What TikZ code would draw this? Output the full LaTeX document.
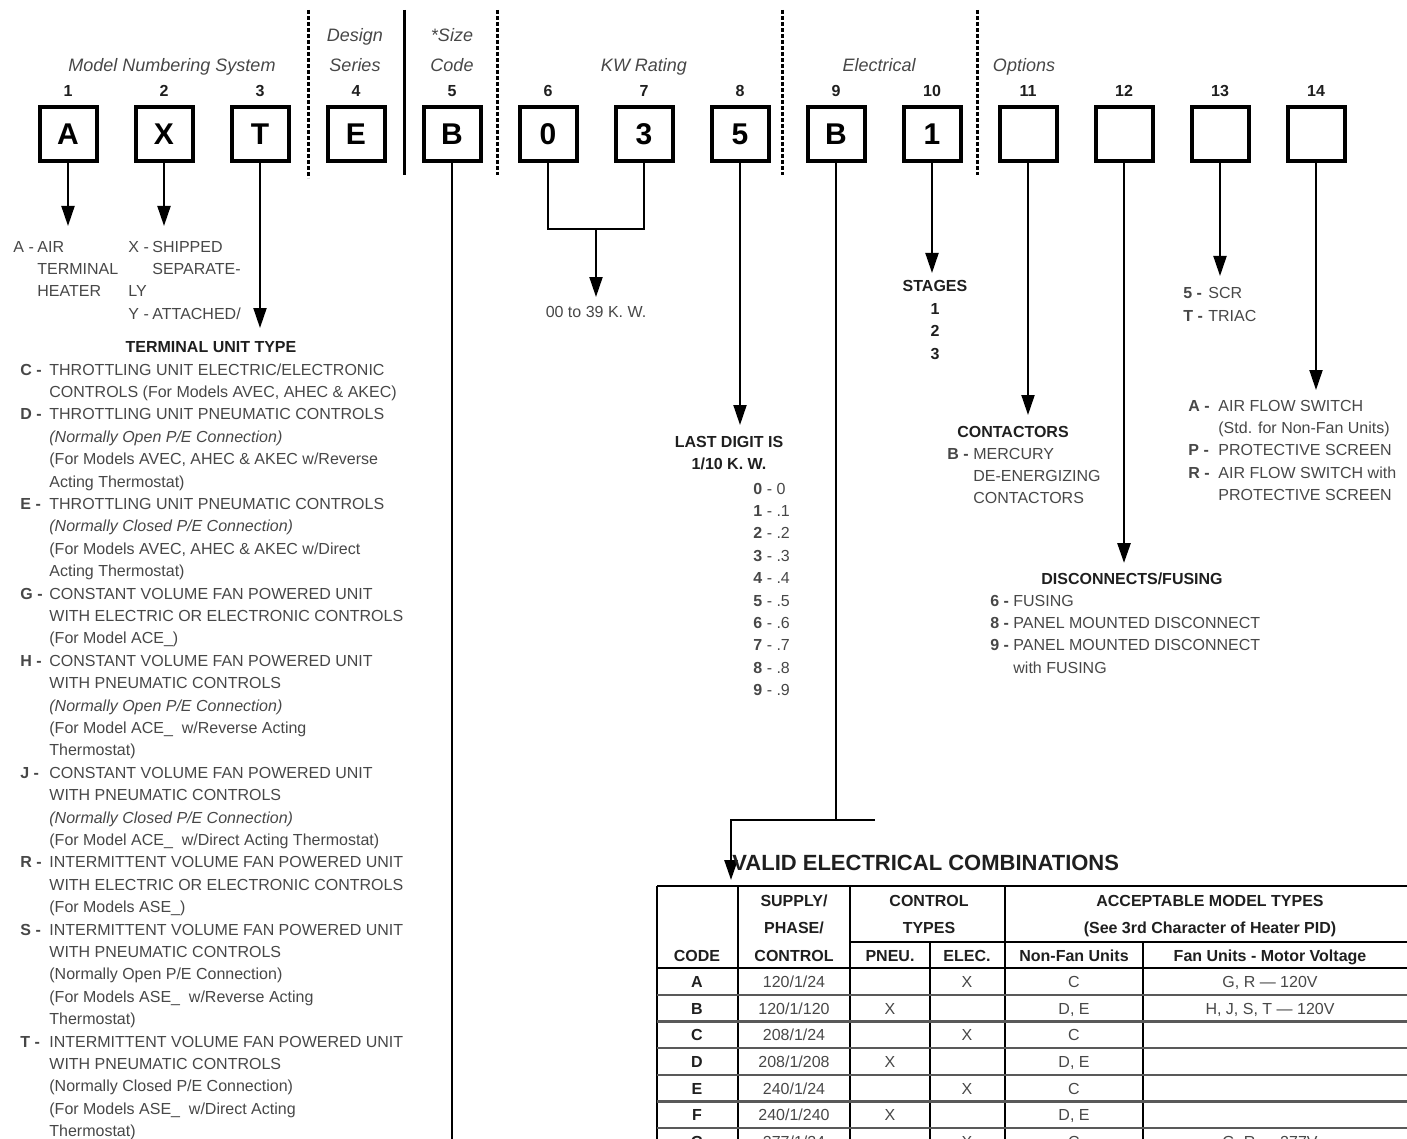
\documentclass[tikz,border=0pt]{standalone}
\usepackage{fontspec}
\setmainfont{Liberation Sans}
\usetikzlibrary{positioning, arrows.meta}

\colorlet{ink}{black!72}
\colorlet{inkdark}{black!88}

\begin{document}
\begin{tikzpicture}[x=0.5pt, y=-0.5pt,
  digit/.style={draw, line width=2pt, minimum width=28.5pt, minimum height=27pt,
    inner sep=0pt, font=\fontsize{15}{18}\selectfont\bfseries},
  num/.style={inner sep=0pt, font=\fontsize{8}{9}\selectfont\bfseries, text=inkdark},
  hdr/.style={inner sep=0pt, anchor=base, font=\fontsize{9}{11}\selectfont\itshape, text=ink},
  blk/.style={inner sep=0pt, anchor=base west, font=\fontsize{8}{11.2}\selectfont, text=ink},
  ttl/.style={inner sep=0pt, anchor=base, font=\fontsize{8}{11.2}\selectfont\bfseries, text=inkdark},
  arr/.style={line width=1pt, -{Triangle[length=10pt, width=6.5pt]}},
  conn/.style={line width=1pt},
  sep/.style={line width=1.5pt, dash pattern=on 2pt off 1pt},
  tline/.style={line width=1pt},
  rline/.style={line width=1.2pt, black!65},
  tcell/.style={inner sep=0pt, anchor=base, font=\fontsize{8}{9.6}\selectfont, text=ink},
  thead/.style={inner sep=0pt, anchor=base, font=\fontsize{8}{9.6}\selectfont\bfseries, text=inkdark},
]
\path[use as bounding box] (0,0) rectangle (1407,1139);
\clip (0,0) rectangle (1407,1139);

% boxes of the model number
\foreach \i/\c in {1/A,2/X,3/T,4/E,5/B,6/0,7/3,8/5,9/B,10/1,11/{},12/{},13/{},14/{}} {
  \node[digit] (b\i) at ({68+96*(\i-1)},134) {\c};
  \node[num, above=4pt of b\i] (n\i) {\i};
}

% group headings
\node[hdr] (hmns) at (172,71.5) {Model Numbering System};
\node[hdr] (hds1) at (355,41.5) {Design};
\node[hdr] (hds2) at (355,71.5) {Series};
\node[hdr] (hsc1) at (452,41.5) {*Size};
\node[hdr] (hsc2) at (452,71.5) {Code};
\node[hdr] (hkw)  at (644,71.5) {KW Rating};
\node[hdr] (hel)  at (879,71.5) {Electrical};
\node[hdr] (hop)  at (1024,71.5) {Options};

\draw[sep] (308,10) -- (308,178);
\draw[line width=1.5pt] (404,10) -- (404,175);
\draw[sep] (497,10) -- (497,175);
\draw[sep] (782,10) -- (782,175);
\draw[sep] (977,10) -- (977,175);

% arrow ends
\coordinate (e1) at (68,226);
\coordinate (e2) at (164,226);
\coordinate (e3) at (260,328);
\coordinate (e5) at (452,1150);
\coordinate (j67) at (596,229);
\coordinate (e67) at (596,297);
\coordinate (e8) at (740,425);
\coordinate (k9) at (731,820);
\coordinate (k9r) at (875,820);
\coordinate (e9) at (731,880);
\coordinate (e10) at (932,273);
\coordinate (e11) at (1028,415);
\coordinate (e12) at (1124,563);
\coordinate (e13) at (1220,276);
\coordinate (e14) at (1316,390);

\draw[arr] (b1) -- (e1);
\draw[arr] (b2) -- (e2);
\draw[arr] (b3) -- (e3);
\draw[line width=1.2pt] (b5) -- (e5);
\draw[conn] (b6) |- (j67) -| (b7);
\draw[arr] (j67) -- (e67);
\draw[arr] (b8) -- (e8);
\draw[line width=1.3pt] (b9) -- (b9 |- k9);
\draw[arr, line width=1.3pt] (k9r) -- (k9) -- (e9);
\draw[arr] (b10) -- (e10);
\draw[arr] (b11) -- (e11);
\draw[arr, line width=1.4pt] (b12) -- (e12);
\draw[arr] (b13) -- (e13);
\draw[arr] (b14) -- (e14);

% descriptions
\node[blk] (dA) at (13,252) {\begin{tabular}[t]{@{}p{12pt}@{}l@{}}
A -& AIR\\ & TERMINAL\\ & HEATER\end{tabular}};
\node[blk] (dX) at (128,252) {\begin{tabular}[t]{@{}p{12pt}@{}l@{}}
X -& SHIPPED\\ & SEPARATE-\\ \multicolumn{2}{@{}l@{}}{LY}\\ Y -& ATTACHED/\end{tabular}};

\node[ttl] (tut) at (211,352) {TERMINAL UNIT TYPE};
\node[blk] (tlist) at (20,375) {\begin{tabular}[t]{@{}p{14.5pt}@{}l@{}}
\textbf{C -} & THROTTLING UNIT ELECTRIC/ELECTRONIC\\
 & CONTROLS (For Models AVEC, AHEC \& AKEC)\\
\textbf{D -} & THROTTLING UNIT PNEUMATIC CONTROLS\\
 & \textit{(Normally Open P/E Connection)}\\
 & (For Models AVEC, AHEC \& AKEC w/Reverse\\
 & Acting Thermostat)\\
\textbf{E -} & THROTTLING UNIT PNEUMATIC CONTROLS\\
 & \textit{(Normally Closed P/E Connection)}\\
 & (For Models AVEC, AHEC \& AKEC w/Direct\\
 & Acting Thermostat)\\
\textbf{G -} & CONSTANT VOLUME FAN POWERED UNIT\\
 & WITH ELECTRIC OR ELECTRONIC CONTROLS\\
 & (For Model ACE\_)\\
\textbf{H -} & CONSTANT VOLUME FAN POWERED UNIT\\
 & WITH PNEUMATIC CONTROLS\\
 & \textit{(Normally Open P/E Connection)}\\
 & (For Model ACE\_ \ w/Reverse Acting\\
 & Thermostat)\\
\textbf{J -} & CONSTANT VOLUME FAN POWERED UNIT\\
 & WITH PNEUMATIC CONTROLS\\
 & \textit{(Normally Closed P/E Connection)}\\
 & (For Model ACE\_ \ w/Direct Acting Thermostat)\\
\textbf{R -} & INTERMITTENT VOLUME FAN POWERED UNIT\\
 & WITH ELECTRIC OR ELECTRONIC CONTROLS\\
 & (For Models ASE\_)\\
\textbf{S -} & INTERMITTENT VOLUME FAN POWERED UNIT\\
 & WITH PNEUMATIC CONTROLS\\
 & (Normally Open P/E Connection)\\
 & (For Models ASE\_ \ w/Reverse Acting\\
 & Thermostat)\\
\textbf{T -} & INTERMITTENT VOLUME FAN POWERED UNIT\\
 & WITH PNEUMATIC CONTROLS\\
 & (Normally Closed P/E Connection)\\
 & (For Models ASE\_ \ w/Direct Acting\\
 & Thermostat)
\end{tabular}};

\node[blk, anchor=base] (kw) at (596,317) {00 to 39 K. W.};

\node[ttl] (ld) at (729,447) {\begin{tabular}[t]{@{}c@{}}LAST DIGIT IS\\1/10 K. W.\end{tabular}};
\node[blk] (dg) at (753,494) {\begin{tabular}[t]{@{}l@{}}
\textbf{0} - 0\\ \textbf{1} - .1\\ \textbf{2} - .2\\ \textbf{3} - .3\\ \textbf{4} - .4\\
\textbf{5} - .5\\ \textbf{6} - .6\\ \textbf{7} - .7\\ \textbf{8} - .8\\ \textbf{9} - .9\end{tabular}};

\node[ttl] (stg) at (935,292) {\begin{tabular}[t]{@{}c@{}}STAGES\\1\\2\\3\end{tabular}};

\node[ttl] (ct) at (1013,437) {CONTACTORS};
\node[blk] (dct) at (947,459) {\begin{tabular}[t]{@{}p{13pt}@{}l@{}}
\textbf{B -}& MERCURY\\ & DE-ENERGIZING\\ & CONTACTORS\end{tabular}};

\node[ttl] (dsf) at (1132,584) {DISCONNECTS/FUSING};
\node[blk] (ddsf) at (990,606) {\begin{tabular}[t]{@{}p{11.5pt}@{}l@{}}
\textbf{6 -}& FUSING\\ \textbf{8 -}& PANEL MOUNTED DISCONNECT\\
\textbf{9 -}& PANEL MOUNTED DISCONNECT\\ & with FUSING\end{tabular}};

\node[blk] (dscr) at (1183,299) {\begin{tabular}[t]{@{}p{12.5pt}@{}l@{}}
\textbf{5 -}& SCR\\ \textbf{T -}& TRIAC\end{tabular}};

\node[blk] (daf) at (1188,411) {\begin{tabular}[t]{@{}p{15pt}@{}l@{}}
\textbf{A -}& AIR FLOW SWITCH\\ & (Std. for Non-Fan Units)\\
\textbf{P -}& PROTECTIVE SCREEN\\ \textbf{R -}& AIR FLOW SWITCH with\\ & PROTECTIVE SCREEN\end{tabular}};

% valid electrical combinations
\node[inner sep=0pt, anchor=base west, font=\fontsize{11}{13}\selectfont\bfseries, text=inkdark]
  (vec) at (732,870) {VALID ELECTRICAL COMBINATIONS};

\draw[tline] (657,886) -- (1420,886);
\draw[tline] (850,942) -- (1420,942);
\draw[tline] (657,968) -- (1420,968);
\foreach \x in {657,738,850,1005} \draw[tline] (\x,886) -- (\x,1160);
\foreach \x in {930,1143} \draw[tline] (\x,942) -- (\x,1160);
\foreach \r in {1,...,6} \draw[rline] (657,{968+26.7*\r}) -- (1420,{968+26.7*\r});

\node[thead] (hcode) at (697,961) {CODE};
\node[thead] (hsup1) at (794,906) {SUPPLY/};
\node[thead] (hsup2) at (794,933) {PHASE/};
\node[thead] (hsup3) at (794,961) {CONTROL};
\node[thead] (hct1) at (929,906) {CONTROL};
\node[thead] (hct2) at (929,933) {TYPES};
\node[thead] (hpn) at (890,961) {PNEU.};
\node[thead] (hec) at (967,961) {ELEC.};
\node[thead] (hacc1) at (1210,906) {ACCEPTABLE MODEL TYPES};
\node[thead] (hacc2) at (1210,933) {(See 3rd Character of Heater PID)};
\node[thead] (hnf) at (1074,961) {Non-Fan Units};
\node[thead] (hfu) at (1270,961) {Fan Units - Motor Voltage};

\foreach \r/\c/\s/\p/\e/\n/\f in {
  0/A/{120/1/24}/{}/X/C/{G, R --- 120V},
  1/B/{120/1/120}/X/{}/{D, E}/{H, J, S, T --- 120V},
  2/C/{208/1/24}/{}/X/C/{},
  3/D/{208/1/208}/X/{}/{D, E}/{},
  4/E/{240/1/24}/{}/X/C/{},
  5/F/{240/1/240}/X/{}/{D, E}/{},
  6/G/{277/1/24}/{}/X/C/{G, R --- 277V}} {
  \node[thead] (c\r) at (697,{968+26.7*(\r+0.5)+6}) {\c};
  \node[tcell] (s\r) at (794,{968+26.7*(\r+0.5)+6}) {\s};
  \node[tcell] (p\r) at (890,{968+26.7*(\r+0.5)+6}) {\p};
  \node[tcell] (x\r) at (967,{968+26.7*(\r+0.5)+6}) {\e};
  \node[tcell] (m\r) at (1074,{968+26.7*(\r+0.5)+6}) {\n};
  \node[tcell] (f\r) at (1270,{968+26.7*(\r+0.5)+6}) {\f};
}
\end{tikzpicture}
\end{document}
